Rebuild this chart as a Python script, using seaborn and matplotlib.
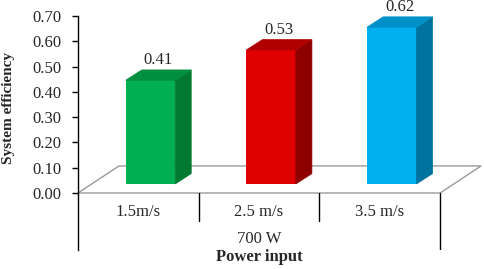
import numpy as np
import pandas as pd
import seaborn as sns
import matplotlib.pyplot as plt
from matplotlib.patches import Polygon

sns.set_style("white")
plt.rcParams['font.family'] = ['Liberation Serif', 'DejaVu Serif']

# data
speeds = ['1.5m/s', '2.5 m/s', '3.5 m/s']
efficiency = [0.41, 0.53, 0.62]
front_cols = ['#00B050', '#E00000', '#00B0F0']
side_cols = ['#007A30', '#8E0000', '#0072A0']
top_cols = ['#008F3E', '#B00000', '#0090C8']
group_label = '700 W'

df = pd.DataFrame({'speed': speeds, 'eff': efficiency})

fig = plt.figure(figsize=(4.84, 2.69), dpi=100)
ax = fig.add_axes([78/484, 19/269, 406/484, 234/269])

sns.barplot(data=df, x='speed', y='eff', hue='speed', palette=front_cols,
            width=0.41, legend=False, ax=ax, saturation=1, zorder=3,
            linewidth=0, edgecolor='none')

# depth settings (in data units)
floor_dx, floor_dy = 0.34, 0.107
base = floor_dy / 3
bar_dx, bar_dy = 0.133, 0.041

ax.set_xlim(-0.6, 2.764)
ax.set_ylim(-0.2254, 0.70)

# floor
fl = Polygon([(-0.6, 0), (2.4, 0), (2.4 + floor_dx, floor_dy), (-0.6 + floor_dx, floor_dy)],
             closed=True, facecolor='white', edgecolor='#9a9a9a', lw=1, zorder=1)
ax.add_patch(fl)

# 3d faces on each bar
for i, p in enumerate(ax.patches[:len(efficiency)]):
    p.set_y(p.get_y() + base)
    x0, w = p.get_x(), p.get_width()
    y0, h = p.get_y(), p.get_height()
    x1, y1 = x0 + w, y0 + h
    side = Polygon([(x1, y0), (x1 + bar_dx, y0 + bar_dy), (x1 + bar_dx, y1 + bar_dy), (x1, y1)],
                   closed=True, facecolor=side_cols[i], edgecolor=side_cols[i], lw=0.5, zorder=3)
    top = Polygon([(x0, y1), (x1, y1), (x1 + bar_dx, y1 + bar_dy), (x0 + bar_dx, y1 + bar_dy)],
                  closed=True, facecolor=top_cols[i], edgecolor=top_cols[i], lw=0.5, zorder=3)
    ax.add_patch(side)
    ax.add_patch(top)
    ax.text(x0 + w / 2 + bar_dx / 2, y1 + bar_dy + 0.006, f'{efficiency[i]:.2f}',
            ha='center', va='bottom', fontsize=12, clip_on=False)

# category dividers and labels
for k in range(1, len(speeds)):
    ax.plot([k - 0.6, k - 0.6], [0, -0.111], color='black', lw=1, zorder=2)
ax.plot([2.4, 2.4], [0, -0.2254], color='black', lw=1, zorder=2)
for i, s in enumerate(speeds):
    ax.text(i - 0.1, -0.075, s, ha='center', va='center', fontsize=12)
ax.text(0.9, -0.182, group_label, ha='center', va='center', fontsize=12)
ax.text(0.9, -0.253, 'Power input', ha='center', va='center', fontsize=12,
        fontweight='bold', clip_on=False)

ax.set_xticks([])
ax.set_yticks(np.arange(0, 0.71, 0.1))
ax.set_yticklabels([f'{v:.2f}' for v in np.arange(0, 0.71, 0.1)], fontsize=12)
ax.tick_params(axis='y', direction='out', length=4, width=1, color='black', pad=8, left=True)
for s in ['top', 'right', 'bottom']:
    ax.spines[s].set_visible(False)
ax.spines['left'].set_color('black')
ax.spines['left'].set_linewidth(1)
ax.set_xlabel('')
ax.set_ylabel('System efficiency', fontsize=11, fontweight='bold')
ax.yaxis.set_label_coords(-0.155, 0.607)

fig.savefig('out.png', dpi=100)
